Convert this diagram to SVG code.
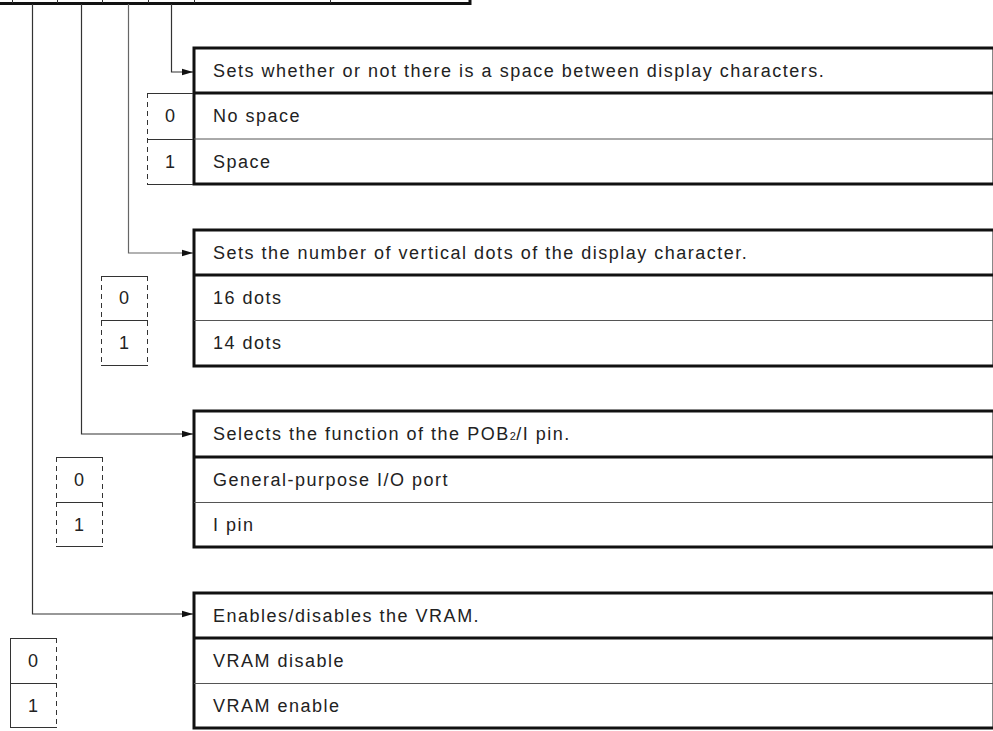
<svg xmlns="http://www.w3.org/2000/svg" width="993" height="731" viewBox="0 0 993 731">
<style>
text{font-family:"Liberation Sans",Arial,sans-serif;font-size:18px;letter-spacing:1.5px;fill:#222}
.num{text-anchor:middle;letter-spacing:0}
.thick{fill:none;stroke:#111;stroke-width:3}
.thin{stroke:#555;stroke-width:1;fill:none}
.solid{stroke:#333;stroke-width:1;fill:none}
.dash{stroke:#333;stroke-width:1;fill:none;stroke-dasharray:5,4}
.conn{stroke:#333;stroke-width:1.2;fill:none}
</style>
<defs>
<marker id="ah" markerWidth="12" markerHeight="8" refX="11" refY="4" orient="auto" markerUnits="userSpaceOnUse">
<path d="M0,0.8 L11,4 L0,7.2 Z" fill="#111"/>
</marker>
</defs>
<g id="register">
<line x1="0" y1="3.5" x2="471" y2="3.5" class="thick"/>
<line x1="470" y1="0" x2="470" y2="5" class="thick"/>
<g class="solid">
<line x1="12.5" y1="0" x2="12.5" y2="3"/>
<line x1="57.5" y1="0" x2="57.5" y2="3"/>
<line x1="102.5" y1="0" x2="102.5" y2="3"/>
<line x1="148.5" y1="0" x2="148.5" y2="3"/>
<line x1="194.5" y1="0" x2="194.5" y2="3"/>
<line x1="330.5" y1="0" x2="330.5" y2="3"/>
</g>
</g>
<g id="connectors">
<path class="conn" d="M171.5,4 V72 H193" marker-end="url(#ah)"/>
<path class="conn" d="M128.5,4 V253 H193" marker-end="url(#ah)" style="stroke:#666"/>
<path class="conn" d="M81.5,4 V434 H193" marker-end="url(#ah)"/>
<path class="conn" d="M32.5,4 V614 H193" marker-end="url(#ah)"/>
</g>
<g id="table1">
<rect x="194" y="48" width="800" height="136" class="thick"/>
<line x1="194" y1="93" x2="994" y2="93" class="thick"/>
<line x1="194" y1="139" x2="994" y2="139" class="thin"/>
<text x="213" y="77">Sets whether or not there is a space between display characters.</text>
<text x="213" y="122">No space</text>
<text x="213" y="168">Space</text>
</g>
<g id="bits1">
<line x1="147" y1="93.5" x2="193" y2="93.5" class="solid"/>
<line x1="147" y1="139.5" x2="193" y2="139.5" class="solid"/>
<line x1="147" y1="184.5" x2="193" y2="184.5" class="solid"/>
<line x1="147.5" y1="93" x2="147.5" y2="185" class="dash"/>
<text x="170" y="122" class="num">0</text>
<text x="170" y="168" class="num">1</text>
</g>
<g id="table2">
<rect x="194" y="230" width="800" height="136" class="thick"/>
<line x1="194" y1="275" x2="994" y2="275" class="thick"/>
<line x1="194" y1="320.5" x2="994" y2="320.5" class="thin"/>
<text x="213" y="259">Sets the number of vertical dots of the display character.</text>
<text x="213" y="304">16 dots</text>
<text x="213" y="349">14 dots</text>
</g>
<g id="bits2">
<line x1="101" y1="276.5" x2="148" y2="276.5" class="solid"/>
<line x1="101" y1="320.5" x2="148" y2="320.5" class="solid"/>
<line x1="101" y1="365.5" x2="148" y2="365.5" class="solid"/>
<line x1="101.5" y1="276" x2="101.5" y2="366" class="dash"/>
<line x1="147.5" y1="276" x2="147.5" y2="366" class="dash"/>
<text x="124" y="304" class="num">0</text>
<text x="124" y="349" class="num">1</text>
</g>
<g id="table3">
<rect x="194" y="411" width="800" height="136" class="thick"/>
<line x1="194" y1="457" x2="994" y2="457" class="thick"/>
<line x1="194" y1="502.5" x2="994" y2="502.5" class="thin"/>
<text x="213" y="440">Selects the function of the POB<tspan font-size="11" letter-spacing="0.5">2</tspan>/I pin.</text>
<text x="213" y="486">General-purpose I/O port</text>
<text x="213" y="531">I pin</text>
</g>
<g id="bits3">
<line x1="56" y1="457.5" x2="103" y2="457.5" class="solid"/>
<line x1="56" y1="502.5" x2="103" y2="502.5" class="solid"/>
<line x1="56" y1="546.5" x2="103" y2="546.5" class="solid"/>
<line x1="56.5" y1="457" x2="56.5" y2="547" class="dash"/>
<line x1="102.5" y1="457" x2="102.5" y2="547" class="dash"/>
<text x="79" y="486" class="num">0</text>
<text x="79" y="531" class="num">1</text>
</g>
<g id="table4">
<rect x="194" y="593" width="800" height="135" class="thick"/>
<line x1="194" y1="638" x2="994" y2="638" class="thick"/>
<line x1="194" y1="683.5" x2="994" y2="683.5" class="thin"/>
<text x="213" y="622">Enables/disables the VRAM.</text>
<text x="213" y="667">VRAM disable</text>
<text x="213" y="712">VRAM enable</text>
</g>
<g id="bits4">
<line x1="10" y1="638.5" x2="57" y2="638.5" class="solid"/>
<line x1="10" y1="683.5" x2="57" y2="683.5" class="solid"/>
<line x1="10" y1="727.5" x2="57" y2="727.5" class="solid"/>
<line x1="10.5" y1="638" x2="10.5" y2="728" class="solid"/>
<line x1="56.5" y1="638" x2="56.5" y2="728" class="dash"/>
<text x="33" y="667" class="num">0</text>
<text x="33" y="712" class="num">1</text>
</g>
</svg>
